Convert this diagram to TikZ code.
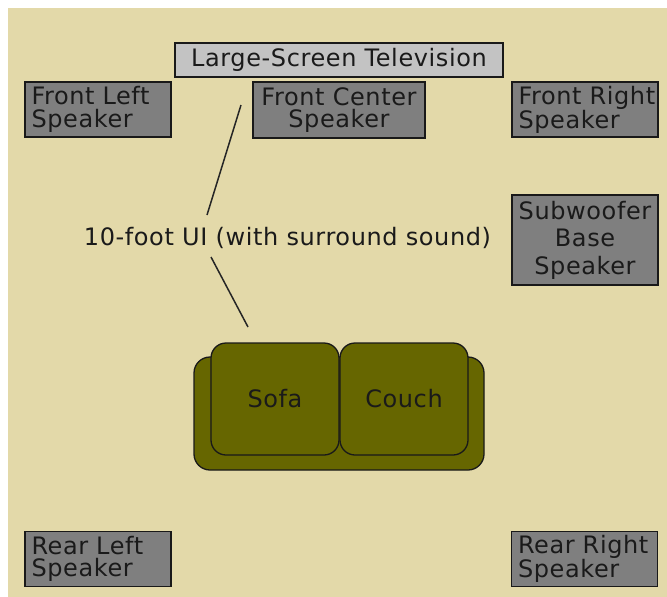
\documentclass[tikz,border=0pt]{standalone}
\usepackage{fontspec}
\setmainfont[LetterSpace=2.5]{DejaVu Sans}
\definecolor{bg}{HTML}{E3D9A9}
\definecolor{spkgray}{HTML}{7F7F7F}
\definecolor{tvgray}{HTML}{C3C3C3}
\definecolor{olive}{HTML}{666600}
\definecolor{txt}{HTML}{1A1A1A}
\begin{document}
\begin{tikzpicture}[x=1pt,y=-1pt,
  box/.style={draw=black!90, line width=1.5pt, inner sep=0pt, text=txt,
    font=\fontsize{24}{22.5}\selectfont},
  spk/.style={box, fill=spkgray, minimum width=146pt, minimum height=55pt},
  spkleft/.style={spk, text width=133pt, align=left},
  cushion/.style={draw=black!90, line width=1.3pt, fill=olive, rounded corners=15pt,
    minimum width=128pt, minimum height=112pt, inner sep=0pt, text=txt,
    font=\fontsize{24}{22.5}\selectfont},
  conn/.style={draw=black!85, line width=1.5pt}
]
\useasboundingbox (0,0) rectangle (667,597);
\fill[white] (0,0) rectangle (667,597);
\fill[bg] (8,8) rectangle (667,597);

\node[box, fill=tvgray, minimum width=328pt, minimum height=34pt] (tv) at (339,60) {Large-Screen Television};
\node[spkleft] (fl) at (98,109.5) {\mbox{Front Left}\\Speaker};
\node[box, fill=spkgray, minimum width=172pt, minimum height=56pt, align=center] (fc) at (339,110) {Front Center\\Speaker};
\node[spkleft] (fr) at (585,109.5) {\mbox{Front Right}\\Speaker};
\node[box, fill=spkgray, minimum width=146pt, minimum height=90pt, align=center,
  font=\fontsize{24}{27.5}\selectfont] (sub) at (585,240) {Subwoofer\\Base\\Speaker};
\node[spkleft] (rl) at (98,559) {\mbox{Rear Left}\\Speaker};
\node[spkleft] (rr) at (584.5,559) {\mbox{Rear Right}\\Speaker};

\node[text=txt, font=\fontsize{24}{22.5}\selectfont, inner sep=0pt] (ui) at (287.5,238) {10-foot UI (with surround sound)};

\draw[draw=black!90, line width=1.3pt, fill=olive, rounded corners=16pt] (194,357) rectangle (484,470);
\node[cushion] (sofa) at (275,399) {Sofa};
\node[cushion] (couch) at (404,399) {Couch};

\coordinate (u1) at (207,215);
\coordinate (t1) at (241,105);
\coordinate (u2) at (211,257);
\coordinate (s1) at (248,327);
\draw[conn] (u1) -- (t1);
\draw[conn] (u2) -- (s1);
\end{tikzpicture}
\end{document}
